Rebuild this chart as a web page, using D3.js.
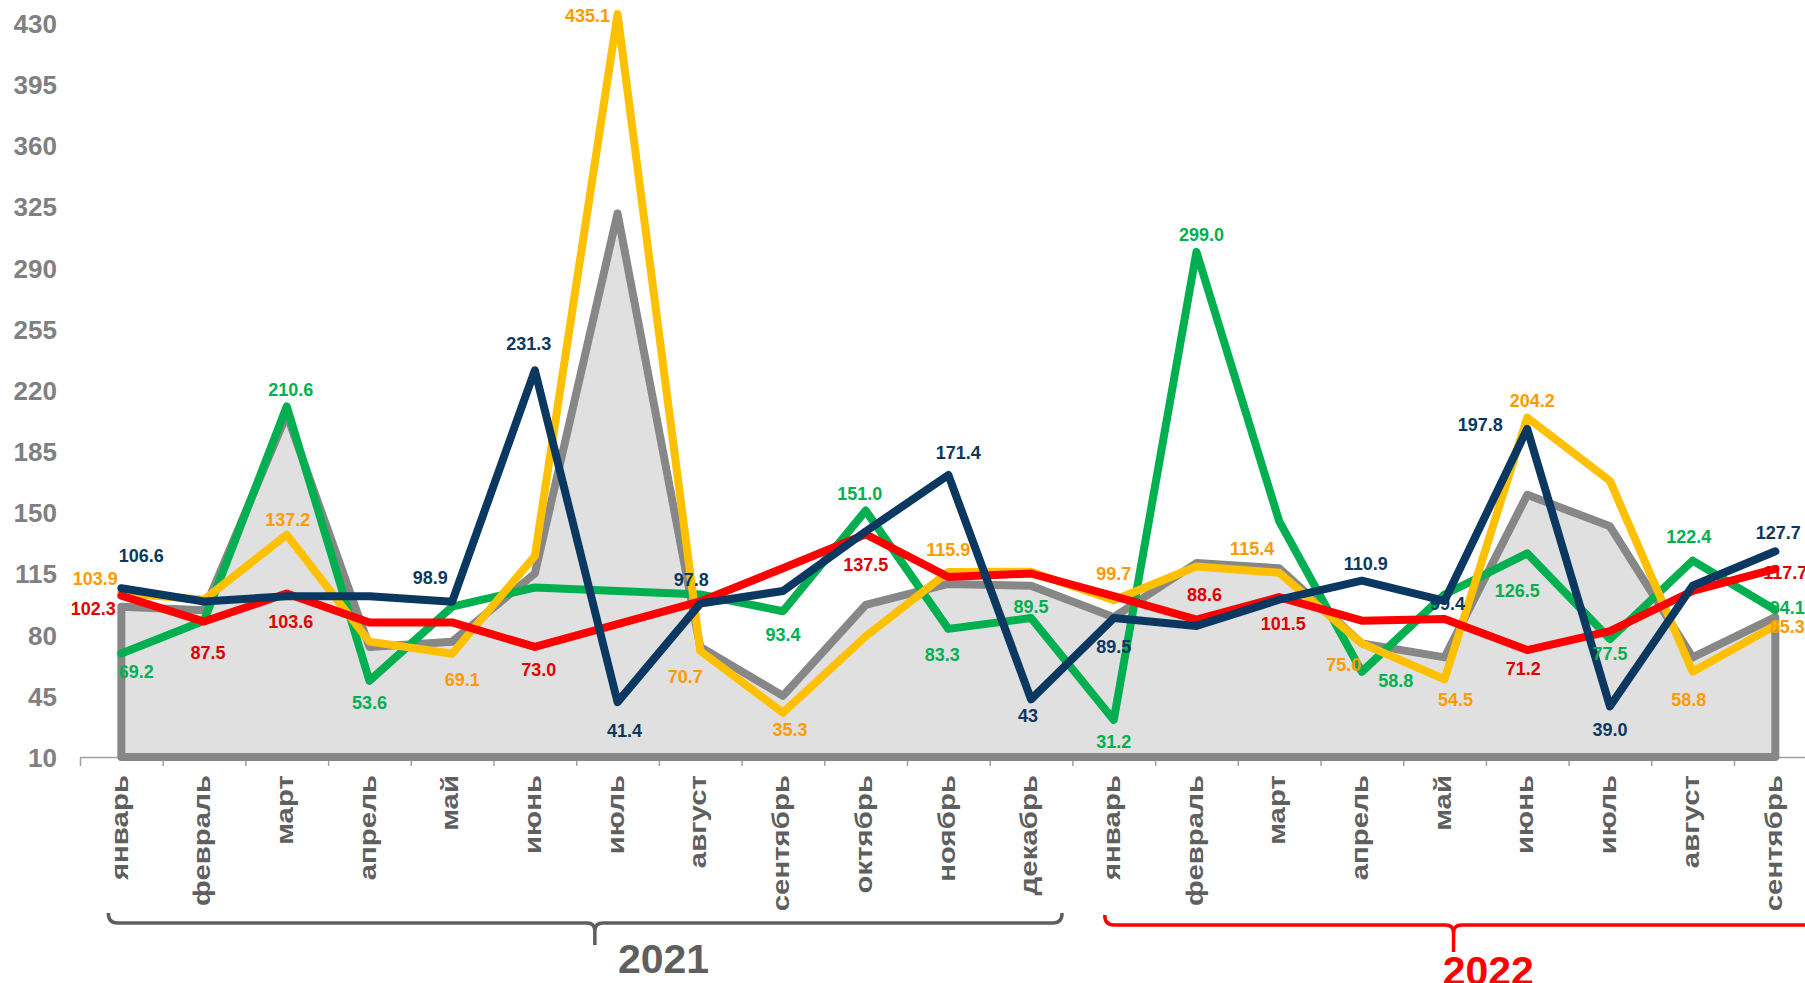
<!DOCTYPE html>
<html>
<head>
<meta charset="utf-8">
<script src="https://cdn.jsdelivr.net/npm/d3@7"></script>
<style>
    body { margin: 0; background: #ffffff; }
    #chart { width: 1805px; height: 983px; }
    text { font-family: "Liberation Sans", Arial, sans-serif; font-weight: bold; }
</style>
</head>
<body>
<div id="chart"></div>
<script>

    /*
    DATA
    */

    const months = ["январь","февраль","март","апрель","май","июнь","июль","август","сентябрь","октябрь","ноябрь","декабрь",
                    "январь","февраль","март","апрель","май","июнь","июль","август","сентябрь"];
    const years = ["2021", "2022"];
    const yTicks = [10, 45, 80, 115, 150, 185, 220, 255, 290, 325, 360, 395, 430];

    const greyValues   = [96, 94, 206, 73, 76, 115, 321, 73, 45, 97, 109, 108, 90, 121, 118, 75, 67, 160, 142, 67, 90];
    const greenValues  = [69.2, 88, 210.6, 53.6, 96, 107, 105, 103, 93.4, 151.0, 83.3, 89.5, 31.2, 299.0, 145, 58.8, 103, 126.5, 77.5, 122.4, 94.1];
    const yellowValues = [103.9, 100, 137.2, 76, 69.1, 125, 435.1, 70.7, 35.3, 79, 115.9, 116, 99.7, 119, 115.4, 75.0, 54.5, 204.2, 168, 58.8, 85.3];
    const navyValues   = [106.6, 99, 102, 102, 98.9, 231.3, 41.4, 97.8, 105, 139, 171.4, 43, 89.5, 85, 100, 110.9, 99.4, 197.8, 39.0, 108, 127.7];
    const redValues    = [102.3, 87.5, 103.6, 87, 87, 73.0, 86, 99, 118, 137.5, 113, 115, 102, 88.6, 101.5, 88, 89, 71.2, 82, 105, 117.7];

    const greenLabels  = ["69.2", null, "210.6", "53.6", null, null, null, null, "93.4", "151.0", "83.3", "89.5", "31.2", "299.0", null, "58.8", null, "126.5", "77.5", "122.4", "94.1"];
    const yellowLabels = ["103.9", null, "137.2", null, "69.1", null, "435.1", "70.7", "35.3", null, "115.9", null, "99.7", null, "115.4", "75.0", "54.5", "204.2", null, "58.8", "85.3"];
    const navyLabels   = ["106.6", null, null, null, "98.9", "231.3", "41.4", "97.8", null, null, "171.4", "43", "89.5", null, null, "110.9", "99.4", "197.8", "39.0", null, "127.7"];
    const redLabels    = ["102.3", "87.5", "103.6", null, null, "73.0", null, null, null, "137.5", null, null, null, "88.6", "101.5", null, null, "71.2", null, null, "117.7"];

    /*
    DIMENSIONS + CANVAS
    */

    const width = 1805;
    const height = 983;
    const axisY = 757;
    const lineW = 8;

    const svg = d3.select("#chart")
        .append("svg")
        .attr("width", width)
        .attr("height", height);

    /*
    SCALES
    */

    const xScale = d3.scaleBand()
        .domain(d3.range(months.length))
        .range([80, 80 + 82.7 * months.length])
        .padding(0);

    const xEdge = d3.scaleLinear()
        .domain([0, months.length])
        .range(xScale.range());

    const yScale = d3.scaleLinear()
        .domain([10, 430])
        .range([axisY, 23]);

    function cx(i){ return xScale(i) + xScale.bandwidth()/2; }

    /*
    AXES
    */

    const xAxis = svg.append("g")
        .attr("transform", `translate(0, ${axisY})`)
        .call(d3.axisBottom(xEdge)
            .tickValues(d3.range(0, months.length + 1))
            .tickFormat("")
            .tickSizeInner(9)
            .tickSizeOuter(0));
    xAxis.selectAll("path, line")
        .attr("stroke", "#a0a0a0")
        .attr("stroke-width", 1.5);

    const yAxis = svg.append("g")
        .attr("transform", "translate(57,0)")
        .call(d3.axisLeft(yScale).tickValues(yTicks).tickSize(0).tickPadding(0));
    yAxis.select(".domain").remove();
    yAxis.selectAll("text")
        .attr("fill", "#808080")
        .attr("dy", "0.36em")
        .style("font-size", "26px")
        .style("font-family", "'Liberation Sans', Arial, sans-serif")
        .style("font-weight", "bold");

    // month names, rotated and stretched like the original slide
    svg.selectAll(".month")
        .data(months)
        .enter()
        .append("text")
        .attr("class", "month")
        .attr("transform", function(d, i){ return `translate(${cx(i)}, 775) rotate(-90) scale(1.28,1)`; })
        .attr("text-anchor", "end")
        .attr("dy", "0.27em")
        .attr("fill", "#5f5f5f")
        .style("font-size", "23px")
        .text(function(d){ return d; });

    /*
    GREY AREA
    */

    const area = d3.area()
        .x(function(d, i){ return cx(i); })
        .y0(yScale(10))
        .y1(function(d){ return yScale(d); });

    svg.append("path")
        .datum(greyValues)
        .attr("d", area)
        .attr("fill", "#e0e0e0")
        .attr("stroke", "#878787")
        .attr("stroke-width", lineW)
        .attr("stroke-linejoin", "round");

    /*
    LINES
    */

    const series = [
        {values: greenValues,  labels: greenLabels,  line: "#00b050", text: "#00b050",
         offsets: {0:[15,18], 2:[4,-17], 3:[0,22], 8:[0,23], 9:[-6,-17], 10:[-6,26], 11:[0,-12], 12:[0,22], 13:[5,-17], 15:[34,9], 17:[-10,37], 18:[0,14], 19:[-4,-24], 20:[12,-3]}},
        {values: yellowValues, labels: yellowLabels, line: "#ffc000", text: "#ff9a00",
         offsets: {0:[-26,-14], 2:[1,-15], 4:[10,26], 6:[-30,1], 7:[-15,26], 8:[7,17], 10:[0,-22], 12:[0,-27], 14:[-27,-24], 15:[-18,21], 16:[11,20], 17:[5,-17], 19:[-4,28], 20:[12,1]}},
        {values: redValues,    labels: redLabels,    line: "#ff0000", text: "#e00000",
         offsets: {0:[-28,13], 1:[4,31], 2:[4,28], 5:[4,23], 9:[0,30], 13:[8,-25], 14:[4,26], 17:[-4,18], 20:[10,4]}},
        {values: navyValues,   labels: navyLabels,   line: "#0b3860", text: "#0b3860",
         offsets: {0:[20,-33], 4:[-22,-24], 5:[-6,-27], 6:[7,28], 7:[-9,-24], 10:[10,-22], 11:[-3,16], 12:[0,28], 15:[4,-17], 16:[3,3], 17:[-47,-4], 18:[0,23], 20:[3,-19]}}
    ];

    const line = d3.line()
        .x(function(d, i){ return cx(i); })
        .y(function(d){ return yScale(d); });

    series.forEach(function(s){
        svg.append("path")
            .datum(s.values)
            .attr("d", line)
            .attr("fill", "none")
            .attr("stroke", s.line)
            .attr("stroke-width", lineW)
            .attr("stroke-linejoin", "round")
            .attr("stroke-linecap", "round");
    });

    /*
    DATA LABELS
    */

    series.forEach(function(s){
        s.labels.forEach(function(lab, i){
            if (lab === null) return;
            let off = s.offsets[i] || [0, -20];
            svg.append("text")
                .attr("x", cx(i) + off[0])
                .attr("y", yScale(s.values[i]) + off[1])
                .attr("dy", "0.36em")
                .attr("text-anchor", "middle")
                .attr("fill", s.text)
                .style("font-size", "18px")
                .text(lab);
        });
    });

    /*
    YEAR BRACES
    */

    function brace(x1, x2, tip, y, depth, r){
        return `M${x1},${y-10} Q${x1},${y} ${x1+r},${y} L${tip-8},${y} Q${tip},${y} ${tip},${y+8} L${tip},${y+depth}` +
               ` M${tip},${y+8} Q${tip},${y} ${tip+8},${y} L${x2-r},${y} Q${x2},${y} ${x2},${y-10}`;
    }

    const braces = [
        {x1: cx(0) - 13, x2: cx(11) + 31, tip: cx(5) + 60, y: 923, depth: 22, color: "#5f5f5f", tx: cx(6) + 46, ty: 973},
        {x1: cx(12) - 9, x2: width + 40, tip: cx(16) + 9, y: 925, depth: 27, color: "#ff0000", tx: cx(17) - 39, ty: 985}
    ];

    braces.forEach(function(b, i){
        svg.append("path")
            .attr("d", brace(b.x1, b.x2, b.tip, b.y, b.depth, 9))
            .attr("fill", "none")
            .attr("stroke", b.color)
            .attr("stroke-width", 3.5);

        svg.append("text")
            .attr("x", b.tx)
            .attr("y", b.ty)
            .attr("text-anchor", "middle")
            .attr("fill", b.color)
            .style("font-size", "41px")
            .text(years[i]);
    });

</script>
</body>
</html>
